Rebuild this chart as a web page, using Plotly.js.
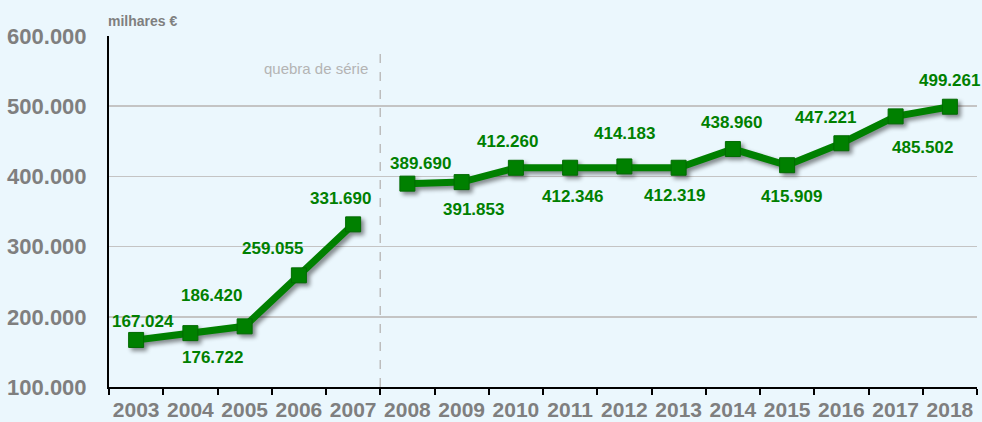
<!DOCTYPE html>
<html>
<head>
<meta charset="utf-8">
<script src="https://cdn.plot.ly/plotly-3.0.1.min.js"></script>
<style>
html, body { margin: 0; padding: 0; background: #ebf7fd; }
#chart { width: 982px; height: 422px; }
.scatterlayer .trace { filter: drop-shadow(3px 3px 2px rgba(0,0,0,0.45)); }
</style>
</head>
<body>
<div id="chart"></div>
<script>
// ---- data ----
var years = ['2003','2004','2005','2006','2007','2008','2009','2010','2011','2012','2013','2014','2015','2016','2017','2018'];
var values = [167024, 176722, 186420, 259055, 331690, 389690, 391853, 412260, 412346, 414183, 412319, 438960, 415909, 447221, 485502, 499261];
var breakIndex = 5; // series break between 2007 and 2008
var unitLabel = 'milhares €';
var breakLabel = 'quebra de série';

// ---- label placement (pixel offsets relative to each point) ----
var labelDX = [7, 22, -33, -26, -13, 13, 12, -8, 2, 0, -4, -1, 4, -16, 27, 0];
var labelDY = [-18, 24, -31, -27, -26, -20, 27, -26, 29, -33, 28, -27, 31, -26, 31, -26];

function fmt(v) { return String(v).replace(/\B(?=(\d{3})+(?!\d))/g, '.'); }

var green = '#008000';
var lineStyle = { color: green, width: 7 };
var markerStyle = { symbol: 'square', size: 15, color: green, line: { color: '#006a00', width: 1 } };

var traces = [
  { x: years.slice(0, breakIndex), y: values.slice(0, breakIndex), type: 'scatter', mode: 'lines+markers',
    line: lineStyle, marker: markerStyle, hoverinfo: 'skip', cliponaxis: false },
  { x: years.slice(breakIndex), y: values.slice(breakIndex), type: 'scatter', mode: 'lines+markers',
    line: lineStyle, marker: markerStyle, hoverinfo: 'skip', cliponaxis: false }
];

var font = 'Arial, "Liberation Sans", sans-serif';
var annotations = years.map(function (yr, i) {
  return { x: i, y: values[i], xref: 'x', yref: 'y', text: '<b>' + fmt(values[i]) + '</b>', showarrow: false,
    xanchor: 'center', yanchor: 'middle', xshift: labelDX[i], yshift: -labelDY[i],
    font: { family: font, size: 17, color: green } };
});
annotations.push({ xref: 'paper', yref: 'paper', x: 0, y: 1, xanchor: 'left', yanchor: 'middle',
  xshift: -3, yshift: 15, text: '<b>' + unitLabel + '</b>', showarrow: false,
  font: { family: font, size: 14, color: '#7f7f7f' } });
annotations.push({ xref: 'x', yref: 'paper', x: breakIndex - 0.5, y: 0.906, xanchor: 'right', yanchor: 'middle',
  xshift: -10, text: breakLabel, showarrow: false,
  font: { family: font, size: 15, color: '#b4b4b4' } });

var layout = {
  width: 982, height: 422,
  margin: { l: 109, r: 5, t: 36, b: 35, pad: 0 },
  paper_bgcolor: '#ebf7fd', plot_bgcolor: '#ebf7fd',
  separators: ',.',
  showlegend: false,
  xaxis: {
    type: 'category', range: [-0.5, years.length - 0.5],
    tickson: 'boundaries', ticks: 'outside', ticklen: 6, tickwidth: 2, tickcolor: '#000',
    showline: true, linecolor: '#000', linewidth: 2, showgrid: false, zeroline: false,
    tickangle: 0, automargin: false,
    tickfont: { family: font, size: 21, color: '#7f7f7f', weight: 'bold' },
    ticklabelstandoff: 3, fixedrange: true
  },
  yaxis: {
    range: [100000, 600000], dtick: 100000, tickformat: ',d',
    showline: true, linecolor: '#000', linewidth: 2, zeroline: false,
    showgrid: true, gridcolor: '#c4c4c4', gridwidth: 1.5,
    ticks: '', ticklabelstandoff: 16, automargin: false,
    tickfont: { family: font, size: 22, color: '#7f7f7f', weight: 'bold' }, fixedrange: true
  },
  shapes: [{ type: 'line', xref: 'x', yref: 'paper', x0: breakIndex - 0.5, x1: breakIndex - 0.5, y0: 0, y1: 0.965,
    line: { color: '#bdbdbd', width: 1.5, dash: 'dash' }, layer: 'below' }],
  annotations: annotations
};

Plotly.newPlot('chart', traces, layout, { staticPlot: true, displayModeBar: false });
</script>
</body>
</html>
